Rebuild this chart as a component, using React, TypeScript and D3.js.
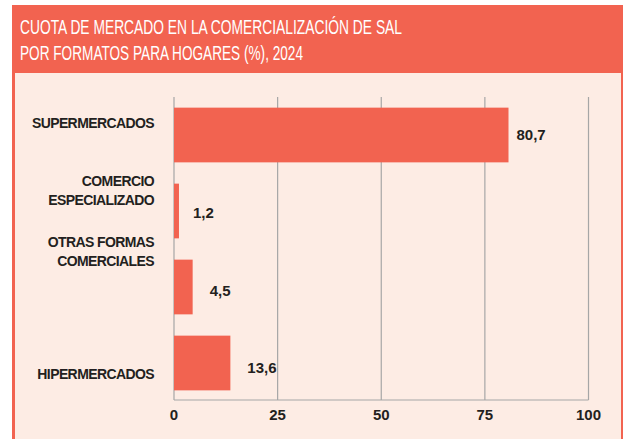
import React from "react";
import * as d3 from "d3";

const categories = [
  ["SUPERMERCADOS"],
  ["COMERCIO", "ESPECIALIZADO"],
  ["OTRAS FORMAS", "COMERCIALES"],
  ["HIPERMERCADOS"],
];
const values = [80.7, 1.2, 4.5, 13.6];
const valueLabels = ["80,7", "1,2", "4,5", "13,6"];
const ticks = [0, 25, 50, 75, 100];
const titleLines = [
  "CUOTA DE MERCADO EN LA COMERCIALIZACIÓN DE SAL",
  "POR FORMATOS PARA HOGARES (%), 2024",
];

const RED = "#F26350";
const BG = "#FDECE4";
const TEXT = "#231F20";
const GRID = "#A6A6A6";

// vertical label shifts relative to band centre (layout only)
const labelShift = [-12, -21, -36, 11];
const valueShift = [0, 2, 4, 5];
const valueOffset = [8, 14, 17, 17];

export default function App() {
  const W = 623;
  const H = 439;
  const x = d3.scaleLinear().domain([0, 100]).range([174, 588.5]);
  const y = d3
    .scaleBand<number>()
    .domain(d3.range(categories.length))
    .range([97, 401])
    .paddingInner(0.28)
    .paddingOuter(0.14);
  const top = 97;
  const bottom = 400;
  return (
    <svg
      width={W}
      height={H}
      style={{ position: "absolute", left: 0, top: 0 }}
      fontFamily="'Liberation Sans', Arial, sans-serif"
    >
      <rect x={0} y={0} width={W} height={H} fill="#fff" />
      <rect x={12} y={5} width={W - 12} height={H} fill={BG} />
      <rect x={12} y={5} width={3} height={H} fill={RED} />
      <rect x={621} y={5} width={2} height={H} fill={RED} />
      <rect x={12} y={5} width={W - 12} height={68} fill={RED} />
      {titleLines.map((t, i) => (
        <text
          key={i}
          x={20}
          y={33.5 + i * 26}
          fill="#fff"
          fontFamily="'Liberation Sans Narrow', 'Liberation Sans', sans-serif"
          fontSize={19.5}
          textLength={i === 0 ? 382 : 283}
          lengthAdjust="spacingAndGlyphs"
        >
          {t}
        </text>
      ))}
      {ticks.map((t) => (
        <line
          key={t}
          x1={x(t)}
          x2={x(t)}
          y1={top}
          y2={bottom}
          stroke={GRID}
          strokeWidth={1.2}
        />
      ))}
      <line x1={x(0)} x2={x(100)} y1={bottom} y2={bottom} stroke={GRID} strokeWidth={1.2} />
      {values.map((v, i) => (
        <rect
          key={i}
          x={x(0)}
          y={y(i)}
          width={x(v) - x(0)}
          height={y.bandwidth()}
          fill={RED}
        />
      ))}
      {values.map((v, i) => (
        <text
          key={i}
          x={x(v) + valueOffset[i]}
          y={(y(i) as number) + y.bandwidth() / 2 + valueShift[i]}
          dy="0.36em"
          fill={TEXT}
          fontWeight="bold"
          fontSize={15}
        >
          {valueLabels[i]}
        </text>
      ))}
      {categories.map((lines, i) => {
        const c = (y(i) as number) + y.bandwidth() / 2 + labelShift[i];
        const n = lines.length;
        return lines.map((l, j) => (
          <text
            key={i + "-" + j}
            x={154}
            y={c + (j - (n - 1) / 2) * 19}
            dy="0.36em"
            textAnchor="end"
            fill={TEXT}
            fontWeight="bold"
            fontSize={14}
            letterSpacing={-0.6}
          >
            {l}
          </text>
        ));
      })}
      {ticks.map((t) => (
        <text
          key={t}
          x={x(t)}
          y={415}
          dy="0.36em"
          textAnchor="middle"
          fill={TEXT}
          fontWeight="bold"
          fontSize={15}
        >
          {t}
        </text>
      ))}
    </svg>
  );
}
